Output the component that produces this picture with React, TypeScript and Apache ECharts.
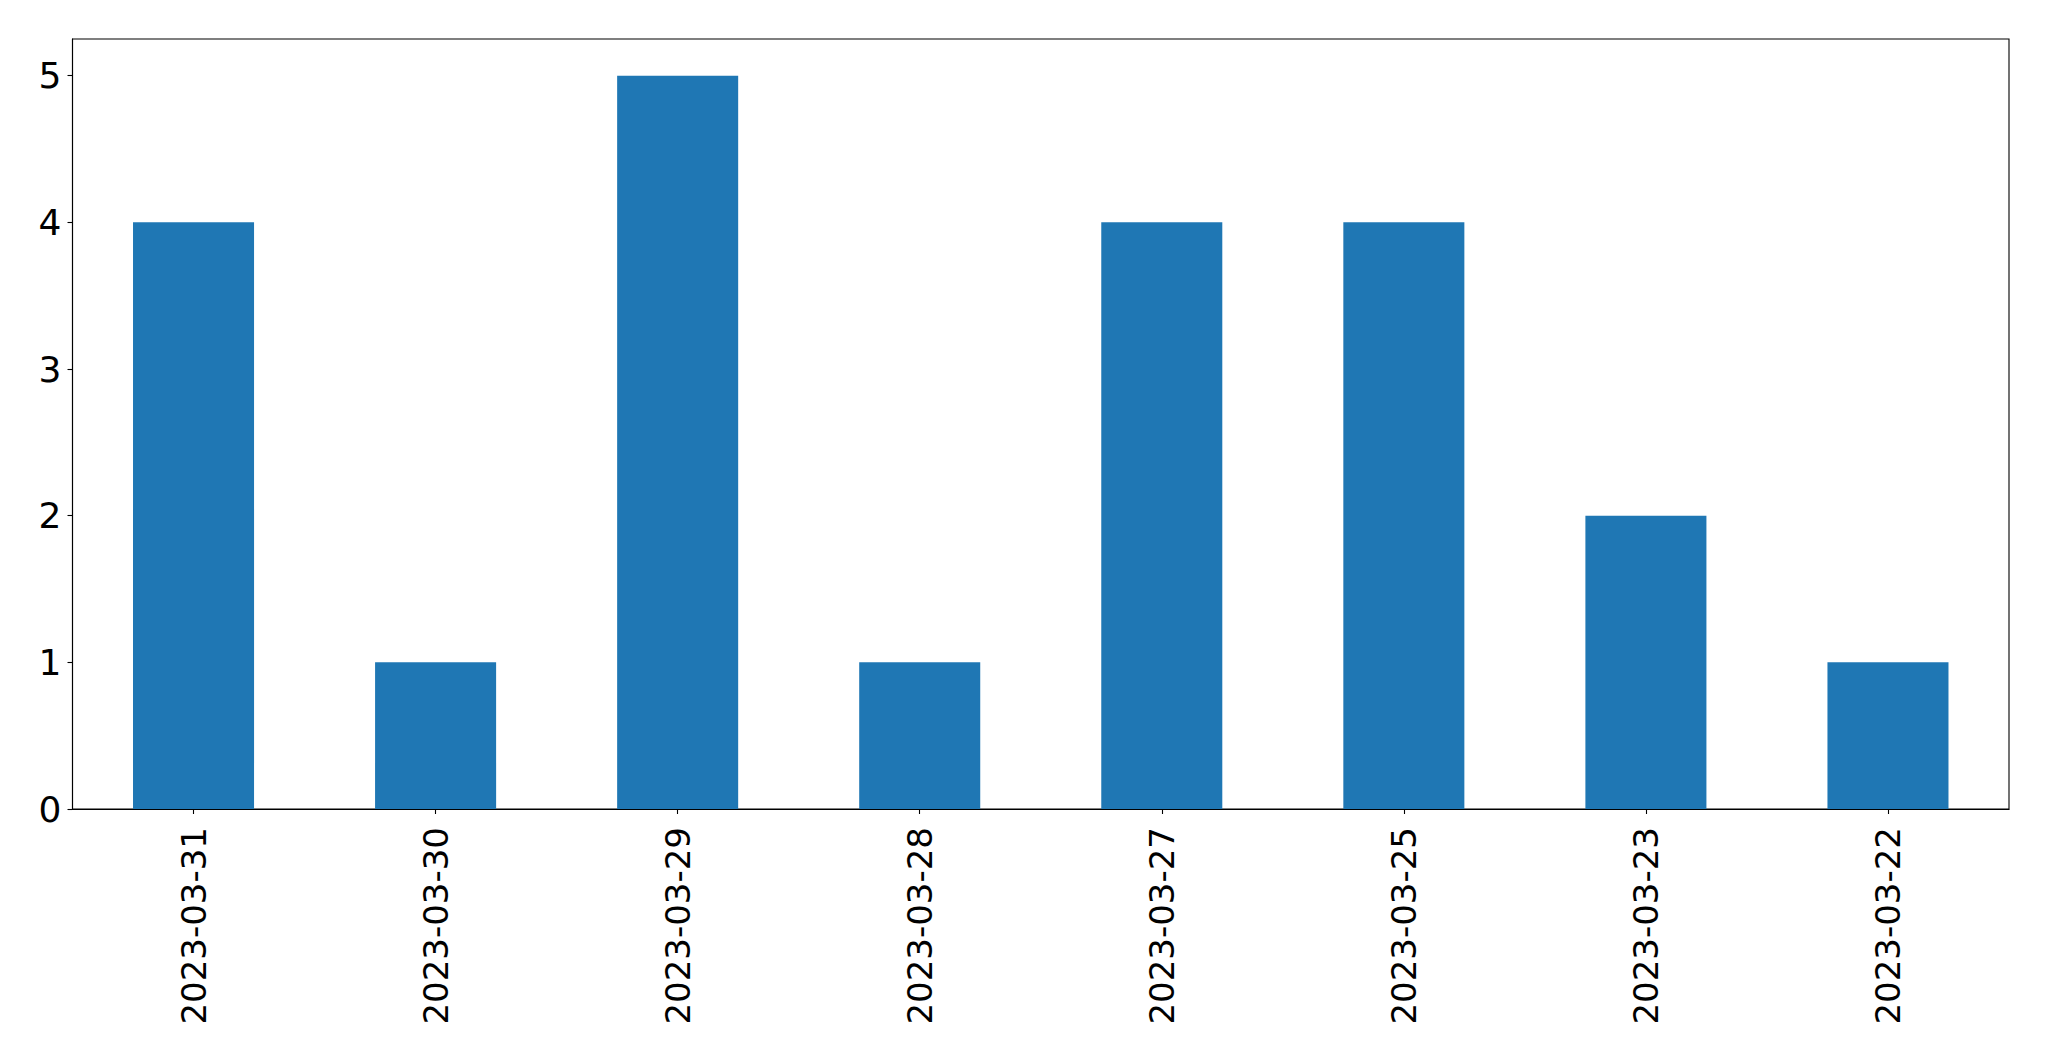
import React, { useEffect, useRef } from "react";
import * as echarts from "echarts";

const categories = [
  "2023-03-31",
  "2023-03-30",
  "2023-03-29",
  "2023-03-28",
  "2023-03-27",
  "2023-03-25",
  "2023-03-23",
  "2023-03-22",
];
const values = [4, 1, 5, 1, 4, 4, 2, 1];
const yTicks = [0, 1, 2, 3, 4, 5];

export default function App() {
  const ref = useRef<HTMLDivElement>(null);
  useEffect(() => {
    document.body.style.margin = "0";
    if (!ref.current) return;
    const chart = echarts.init(ref.current, null, { renderer: "svg" });
    chart.setOption({
      animation: false,
      backgroundColor: "#ffffff",
      grid: {
        left: 72.5,
        top: 39,
        right: 40,
        bottom: 252,
        show: true,
        borderColor: "#000000",
        borderWidth: 1.1,
        containLabel: false,
      },
      xAxis: {
        type: "category",
        data: categories,
        boundaryGap: true,
        axisLine: { show: true, lineStyle: { color: "#000000", width: 1.1 } },
        axisTick: {
          show: true,
          alignWithLabel: true,
          length: 5,
          lineStyle: { color: "#000000", width: 1.1 },
        },
        axisLabel: {
          rotate: 90,
          margin: 18,
          fontSize: 34,
          color: "#000000",
          fontFamily: "DejaVu Sans",
          interval: 0,
        },
        splitLine: { show: false },
      },
      yAxis: {
        type: "value",
        min: 0,
        max: 5.25,
        interval: 1,
        axisLine: { show: true, lineStyle: { color: "#000000", width: 1.1 } },
        axisTick: {
          show: true,
          length: 5,
          customValues: yTicks,
          lineStyle: { color: "#000000", width: 1.1 },
        },
        axisLabel: {
          margin: 11,
          fontSize: 36,
          color: "#000000",
          fontFamily: "DejaVu Sans",
          customValues: yTicks,
        },
        splitLine: { show: false },
      },
      series: [
        {
          type: "bar",
          data: values,
          barWidth: "50%",
          itemStyle: { color: "#1f77b4" },
        },
      ],
    });
    return () => chart.dispose();
  }, []);
  return <div ref={ref} style={{ width: 2049, height: 1061 }} />;
}
